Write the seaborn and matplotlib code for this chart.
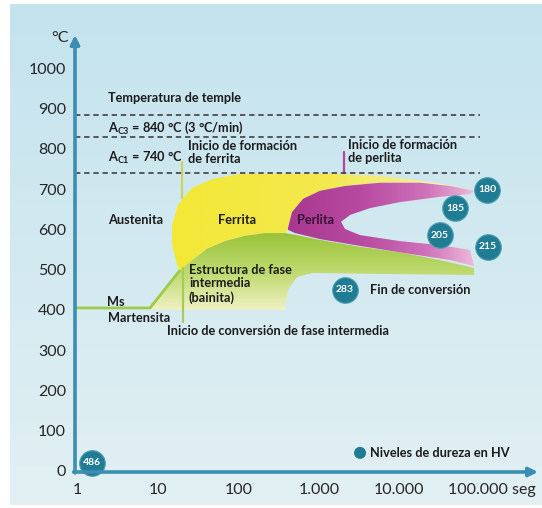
import numpy as np
import pandas as pd
import matplotlib
matplotlib.use("Agg")
import matplotlib.pyplot as plt
import seaborn as sns
from matplotlib.colors import to_rgb
from matplotlib.transforms import ScaledTranslation

# ---------------- data ----------------
temp_ticks = [0, 100, 200, 300, 400, 500, 600, 700, 800, 900, 1000]
time_ticks = [1, 10, 100, 1000, 10000, 100000]
time_tick_labels = ["1", "10", "100", "1.000", "10.000", "100.000 seg"]

dashed_temps = [884, 829, 740]
dashed_end_time = 100000

# ferrite region: start curve, back along pearlite top, then along bainite top
ferrite_time = [20.7, 17.4, 15.1, 15.1, 17.9, 26.7, 47.3, 105, 1377, 5740, 18000, 42400, 84300,
                42400, 18000, 5740, 2113, 1035, 637, 465, 415, 415,
                381, 215, 121, 68.6, 41.0, 29.1, 19.0]
ferrite_temp = [474, 512, 561, 611, 661, 703, 725, 738, 738, 733, 722, 710, 697,
                708, 716, 716, 708, 696, 676, 643, 604, 599,
                591, 591, 584, 571, 552, 529, 499]

# bainite / intermediate phase region
bainite_time = [8.05, 19.0, 29.1, 41.0, 68.6, 121, 215, 381, 537, 1035, 3245, 11090, 31900, 84300,
                84300, 10170, 847, 537, 415, 381, 8.05]
bainite_temp = [405, 499, 529, 552, 571, 584, 591, 591, 586, 574, 557, 542, 524, 504,
                487, 489, 492, 482, 450, 400, 400]

# pearlite region (C-shaped band)
pearlite_time = [415, 465, 637, 1035, 2113, 5740, 18000, 42400, 84300,
                 75100, 31900, 10170, 4320, 2440, 1885, 2113, 3245, 10170, 31900, 75100,
                 84300, 42400, 11090, 3245, 1035, 507, 415]
pearlite_temp = [604, 643, 676, 696, 708, 716, 716, 708, 696,
                 688, 681, 668, 653, 636, 619, 601, 586, 571, 561, 549,
                 509, 524, 542, 559, 576, 591, 599]

# Ms / martensite line
ms_time = [0.944, 8.05, 19.0]
ms_temp = [405, 405, 499]

# start markers
ferrite_mark_time, ferrite_mark_temp = [20.1, 20.1], [768, 678]
bainite_mark_time, bainite_mark_temp = [20.7, 20.7], [504, 370]
pearlite_mark_time, pearlite_mark_temp = [2055, 2055], [793, 740]

# hardness levels (HV)
hardness_values = [180, 185, 205, 215, 283, 486]
hardness_time = [122000, 49000, 31900, 125700, 2113, 1.53]
hardness_temp = [698, 653, 586, 557, 450, 20]

legend_time, legend_temp = [3245], [45]

# ---------------- style ----------------
sns.set_style("white")
plt.rcParams["font.family"] = ["Lato", "DejaVu Sans"]
plt.rcParams["mathtext.default"] = "regular"

TXT = "#1c1c1c"
AXC = "#3b8db3"
CIRC = "#1f7c93"

fig = plt.figure(figsize=(5.42, 5.08), dpi=100, facecolor="white")

# background panel gradient
bg = fig.add_axes([10 / 542, 3 / 508, 532 / 542, 501 / 508])
bg.axis("off")
top_c, bot_c = np.array(to_rgb("#c4e3ee")), np.array(to_rgb("#e2f0f3"))
v = np.linspace(0, 1, 256)[:, None, None]
bg.imshow(bot_c * (1 - v) + top_c * v, aspect="auto", origin="lower", extent=[0, 1, 0, 1])

ax = fig.add_axes([75 / 542, 36 / 508, 463 / 542, 437 / 508])
ax.patch.set_alpha(0)
ax.set_xscale("log")
ax.set_xlim(0.944, 524000)
ax.set_ylim(-2.5, 1083)
ax.set_autoscale_on(False)


def gradient_fill(xs, ys, stops, colors, horizontal, z):
    patch = ax.fill(xs, ys, facecolor="none", edgecolor="none", zorder=z)[0]
    pos = np.linspace(0, 1, 512)
    cols = np.array([to_rgb(c) for c in colors])
    rgb = np.stack([np.interp(pos, stops, cols[:, i]) for i in range(3)], axis=-1)
    img = rgb[None, :, :] if horizontal else rgb[:, None, :]
    im = ax.imshow(img, extent=[0, 1, 0, 1], transform=ax.transAxes, aspect="auto",
                   origin="lower", zorder=z, interpolation="bilinear")
    im.set_clip_path(patch)


gradient_fill(ferrite_time, ferrite_temp, [0.2, 0.55, 0.85], ["#f3e836", "#f3e94e", "#f4f1c8"], True, 2)
gradient_fill(bainite_time, bainite_temp, [0.36, 0.45, 0.545], ["#f6f4cf", "#c2dc74", "#9ac43a"], False, 3)
gradient_fill(pearlite_time, pearlite_temp, [0.46, 0.62, 0.76, 0.87],
              ["#a8388f", "#b84aa2", "#cf72b8", "#f0bedc"], True, 4)

# lines
ax.plot(ms_time, ms_temp, color="#9ccb4a", lw=2, zorder=5, solid_capstyle="butt")
ax.plot(ferrite_mark_time, ferrite_mark_temp, color="#cfd25a", lw=1.6, zorder=5)
ax.plot(bainite_mark_time, bainite_mark_temp, color="#a6cc55", lw=1.6, zorder=5)
ax.plot(pearlite_mark_time, pearlite_mark_temp, color="#b04a98", lw=1.6, zorder=5)
ax.hlines(dashed_temps, xmin=0.944, xmax=dashed_end_time, colors="#333333",
          linestyles=(0, (3.5, 2.5)), lw=1.1, zorder=6)

# hardness circles
hd = pd.DataFrame({"time": hardness_time, "temp": hardness_temp, "hv": hardness_values})
sns.scatterplot(data=hd, x="time", y="temp", s=340, color=CIRC, edgecolor="#4f9fb3",
                linewidth=0.8, ax=ax, zorder=7, clip_on=False, legend=False)
for t, T, h in zip(hardness_time, hardness_temp, hardness_values):
    ax.text(t, T, str(h), color="white", fontsize=7.5, fontweight="bold", ha="center",
            va="center", zorder=8, clip_on=False)
sns.scatterplot(x=legend_time, y=legend_temp, s=75, color=CIRC, edgecolor="none", ax=ax,
                zorder=7, legend=False)

# labels
lab = dict(fontsize=9.2, fontweight="bold", color=TXT, va="center", ha="left", zorder=9)
ax.text(2.43, 927, "Temperatura de temple", **lab)
ax.text(2.43, 852, "A$_{C3}$ = 840 °C (3 °C/min)", **lab)
ax.text(2.43, 778, "A$_{C1}$ = 740 °C", **lab)
ax.text(23.8, 791, "Inicio de formación\nde ferrita", linespacing=1.1, **lab)
ax.text(2303, 793, "Inicio de formación\nde perlita", linespacing=1.1, **lab)
ax.text(2.43, 624, "Austenita", **lab)
ax.text(56.2, 624, "Ferrita", **lab)
ax.text(537, 624, "Perlita", **{**lab, "color": "#3a0f38"})
ax.text(24.5, 465, "Estructura de fase\nintermedia\n(bainita)", linespacing=1.15, **lab)
ax.text(2.36, 420, "Ms", **lab)
ax.text(2.43, 380, "Martensita", **lab)
ax.text(13.1, 348, "Inicio de conversión de fase intermedia", **lab)
ax.text(4320, 450, "Fin de conversión", **lab)
ax.text(4320, 45, "Niveles de dureza en HV", **lab)
ax.text(0.615, 1076, "°C", fontsize=11.5, color="#262626", ha="center", va="center", clip_on=False)

# axes
for s in ax.spines.values():
    s.set_visible(False)
ax.annotate("", xy=(0, 1), xytext=(0, -0.002), xycoords="axes fraction",
            arrowprops=dict(arrowstyle="-|>", color=AXC, lw=2.6, mutation_scale=13,
                            shrinkA=0, shrinkB=0), zorder=10)
ax.annotate("", xy=(1, 0), xytext=(-0.003, 0), xycoords="axes fraction",
            arrowprops=dict(arrowstyle="-|>", color=AXC, lw=2.6, mutation_scale=13,
                            shrinkA=0, shrinkB=0), zorder=10)

ax.set_yticks(temp_ticks)
ax.set_yticklabels([str(t) for t in temp_ticks])
ax.set_xticks(time_ticks)
ax.set_xticklabels(time_tick_labels)
ax.xaxis.set_minor_locator(matplotlib.ticker.NullLocator())
ax.tick_params(axis="both", length=0, labelsize=11.5, labelcolor="#262626")
ax.tick_params(axis="y", pad=6.5)
ax.tick_params(axis="x", pad=8)
ax.set_xlabel("")
ax.set_ylabel("")
lbl = ax.get_xticklabels()[-1]
lbl.set_transform(lbl.get_transform() + ScaledTranslation(0.12, 0, fig.dpi_scale_trans))

fig.savefig("out.png", dpi=100, facecolor="white")
